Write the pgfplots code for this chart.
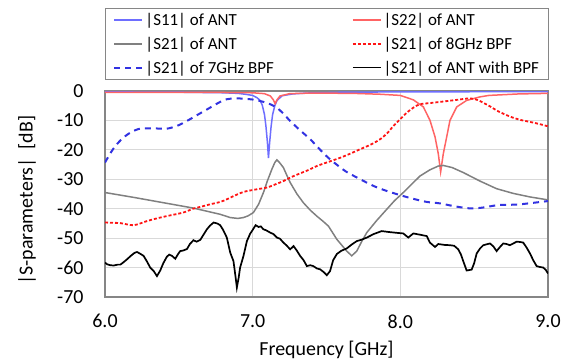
\documentclass[border=0pt]{standalone}
\usepackage{fontspec}
\setmainfont{Carlito}
\usepackage{pgfplots}
\pgfplotsset{compat=1.18}
\definecolor{cSeleven}{RGB}{110,110,255}
\definecolor{cStwotwo}{RGB}{255,100,100}
\definecolor{cAnt}{RGB}{128,128,128}
\definecolor{cEight}{RGB}{255,20,20}
\definecolor{cSeven}{RGB}{50,50,225}
\definecolor{cFrame}{RGB}{134,134,134}
\definecolor{cGrid}{RGB}{217,217,217}
\begin{document}
\begin{tikzpicture}
\path[use as bounding box] (-105bp,-67bp) rectangle (468bp,297bp);
\begin{axis}[
  at={(0,0)}, anchor=south west,
  scale only axis, width=443bp, height=206bp,
  xmin=6, xmax=9, ymin=-70, ymax=0,
  xtick={6,7,8,9}, xticklabels={6.0,7.0,8.0,9.0},
  ytick={-70,-60,-50,-40,-30,-20,-10,0},
  yticklabels={-70,-60,-50,-40,-30,-20,-10,0},
  major tick length=0pt,
  grid=major,
  major grid style={draw=cGrid, line width=0.9bp},
  axis line style={draw=cFrame, line width=1.2bp},
  tick label style={font=\fontsize{20}{24}\selectfont},
  xticklabel style={yshift=-14bp},
  yticklabel style={xshift=-18bp},
  label style={font=\fontsize{20}{24}\selectfont},
  xlabel={Frequency [GHz]},
  ylabel={|S-parameters|\ \ [dB]},
  xlabel style={at={(axis description cs:0.5,-0.257)}, anchor=center},
  ylabel style={at={(axis description cs:-0.176,0.47)}, anchor=center},
  legend columns=2,
  legend cell align=left,
  legend image code/.code={\draw[#1] (0bp,0bp) -- (28bp,0bp);},
  legend style={at={(axis description cs:0,1)}, anchor=south west, yshift=11bp,
    draw=cFrame, line width=1bp, font=\fontsize{17}{20}\selectfont,
    inner xsep=8bp, inner ysep=3bp, row sep=6bp,
    /tikz/every even column/.append style={column sep=76bp}},
]
% |S11| of ANT
\addplot[cSeleven, line width=1.5bp] coordinates {
(6.0,-0.3) (6.5,-0.4) (6.8,-0.6) (6.9,-0.8) (6.95,-1.1) (7.0,-1.5) (7.03,-2.3) (7.05,-3.2) (7.065,-4.8) (7.08,-8) (7.09,-12) (7.1,-17.5) (7.107,-22.8) (7.115,-17.5) (7.125,-12) (7.135,-8) (7.15,-5) (7.165,-3.2) (7.2,-1.6) (7.27,-1.0) (7.36,-0.7) (7.6,-0.4) (8.0,-0.3) (9.0,-0.2)
};
\addlegendentry{|S11| of ANT}
% |S22| of ANT
\addplot[cStwotwo, line width=1.5bp] coordinates {
(6.0,-0.5) (6.8,-0.5) (7.0,-0.6) (7.08,-0.9) (7.12,-1.7) (7.14,-3.0) (7.152,-4.3) (7.165,-3.0) (7.185,-1.7) (7.25,-0.9) (7.4,-0.7) (7.68,-0.8) (7.863,-1.1) (8.0,-1.5) (8.088,-3.0) (8.156,-5.4) (8.201,-10) (8.235,-15.6) (8.257,-21.3) (8.273,-27.5) (8.291,-21.3) (8.314,-15.6) (8.336,-10) (8.382,-5.4) (8.449,-3.2) (8.539,-2.0) (8.6,-1.5) (8.8,-1.0) (9.0,-0.8)
};
\addlegendentry{|S22| of ANT}
% |S21| of ANT
\addplot[cAnt, line width=1.5bp] coordinates {
(6.0,-34.5) (6.2,-36.2) (6.4,-38.0) (6.6,-39.8) (6.78,-41.9) (6.848,-43.0) (6.9,-43.3) (6.938,-43.0) (6.97,-42.4) (7.005,-41.3) (7.04,-38.5) (7.073,-34.5) (7.10,-30.5) (7.13,-26.6) (7.15,-24.3) (7.164,-23.4) (7.18,-24.2) (7.208,-26.0) (7.23,-28.5) (7.254,-31.1) (7.30,-35.0) (7.344,-38.0) (7.39,-40.5) (7.434,-42.5) (7.475,-44.2) (7.513,-45.9) (7.57,-50.4) (7.637,-54.4) (7.671,-56.0) (7.705,-54.4) (7.74,-51.0) (7.773,-48.1) (7.84,-44.0) (7.908,-40.2) (7.96,-37.3) (8.020,-34.5) (8.08,-31.5) (8.133,-28.9) (8.2,-26.8) (8.257,-25.5) (8.291,-25.3) (8.35,-26.0) (8.426,-27.7) (8.539,-30.6) (8.652,-33.2) (8.765,-34.8) (8.878,-36.0) (9.0,-37.0)
};
\addlegendentry{|S21| of ANT}
% |S21| of 8GHz BPF
\addplot[cEight, line width=1.8bp, dash pattern=on 3bp off 2bp, smooth] coordinates {
(6.0,-44.7) (6.104,-44.9) (6.194,-45.6) (6.284,-44.2) (6.35,-43.3) (6.419,-42.5) (6.53,-41.3) (6.597,-40.0) (6.66,-39.2) (6.712,-38.5) (6.78,-37.7) (6.825,-36.8) (6.88,-35.5) (6.938,-34.3) (7.005,-33.6) (7.096,-32.8) (7.15,-31.8) (7.208,-30.6) (7.26,-29.3) (7.321,-28.0) (7.38,-26.8) (7.434,-25.5) (7.513,-24.1) (7.592,-22.7) (7.66,-21.3) (7.727,-19.8) (7.8,-18.2) (7.863,-16.4) (7.91,-14.4) (7.953,-11.9) (8.0,-9.5) (8.043,-7.4) (8.09,-5.6) (8.133,-4.5) (8.2,-4.1) (8.269,-3.7) (8.336,-3.3) (8.4,-2.9) (8.471,-2.5) (8.52,-3.0) (8.562,-4.0) (8.61,-5.3) (8.652,-6.6) (8.71,-8.0) (8.765,-9.1) (8.82,-9.9) (8.878,-10.5) (8.94,-11.2) (9.0,-12.0)
};
\addlegendentry{|S21| of 8GHz BPF}
% |S21| of 7GHz BPF
\addplot[cSeven, line width=2bp, dash pattern=on 6bp off 5bp, smooth] coordinates {
(6.0,-24.3) (6.054,-19.8) (6.11,-16.5) (6.17,-14.2) (6.237,-12.8) (6.33,-12.7) (6.418,-12.8) (6.49,-11.8) (6.554,-10.2) (6.63,-8.0) (6.71,-5.7) (6.78,-3.7) (6.825,-2.8) (6.88,-2.5) (6.936,-2.6) (7.0,-2.9) (7.051,-3.4) (7.11,-4.3) (7.164,-5.7) (7.21,-7.8) (7.254,-10.2) (7.32,-13.3) (7.39,-16.4) (7.45,-19.6) (7.512,-22.7) (7.546,-24.1) (7.63,-27.3) (7.729,-30.0) (7.82,-32.3) (7.91,-34.0) (8.02,-35.7) (8.1,-36.8) (8.18,-37.7) (8.27,-38.2) (8.37,-39.2) (8.475,-39.9) (8.56,-39.6) (8.656,-38.8) (8.73,-38.7) (8.81,-38.5) (8.9,-38.0) (9.0,-37.4)
};
\addlegendentry{|S21| of 7GHz BPF}
% |S21| of ANT with BPF
\addplot[black, line width=1.7bp] coordinates {
(6.000,-58.3) (6.015,-58.9) (6.036,-59.2) (6.06,-59.3) (6.085,-59.0) (6.104,-59.0) (6.125,-58.2) (6.149,-57.2) (6.175,-56.0) (6.2,-55.0) (6.217,-54.7) (6.235,-55.2) (6.261,-56.0) (6.285,-58.0) (6.306,-60.0) (6.33,-61.2) (6.352,-62.9) (6.374,-61.0) (6.395,-58.5) (6.419,-56.3) (6.435,-55.6) (6.453,-56.0) (6.476,-57.0) (6.495,-55.4) (6.509,-54.4) (6.53,-54.2) (6.555,-53.7) (6.575,-52.0) (6.599,-50.7) (6.62,-51.2) (6.645,-50.6) (6.665,-49.0) (6.690,-47.0) (6.71,-45.8) (6.735,-44.7) (6.76,-45.0) (6.780,-45.6) (6.80,-47.2) (6.825,-49.8) (6.848,-54.9) (6.870,-57.8) (6.885,-63.5) (6.893,-66.8) (6.905,-63.5) (6.915,-60.0) (6.938,-56.0) (6.961,-51.0) (6.983,-48.5) (7.00,-47.2) (7.02,-45.6) (7.04,-46.2) (7.055,-46.0) (7.073,-47.0) (7.09,-47.3) (7.118,-48.1) (7.14,-48.6) (7.164,-49.8) (7.185,-50.2) (7.208,-51.5) (7.23,-52.5) (7.254,-53.8) (7.277,-52.7) (7.30,-54.3) (7.321,-56.0) (7.345,-57.5) (7.367,-59.5) (7.39,-59.2) (7.411,-59.5) (7.435,-60.3) (7.457,-60.6) (7.48,-61.5) (7.502,-62.6) (7.524,-61.2) (7.545,-57.5) (7.57,-55.4) (7.60,-54.3) (7.637,-53.5) (7.67,-52.2) (7.705,-51.0) (7.74,-50.5) (7.773,-49.8) (7.82,-48.6) (7.874,-47.6) (7.92,-47.9) (7.976,-48.2) (8.02,-48.4) (8.054,-49.8) (8.088,-48.4) (8.13,-48.8) (8.179,-49.3) (8.2,-51.5) (8.235,-53.0) (8.257,-52.0) (8.30,-52.3) (8.336,-52.4) (8.365,-52.6) (8.392,-53.8) (8.41,-55.5) (8.426,-57.8) (8.449,-61.0) (8.483,-60.7) (8.5,-58.5) (8.517,-55.2) (8.54,-53.5) (8.562,-52.4) (8.607,-51.8) (8.63,-52.8) (8.652,-54.4) (8.675,-53.0) (8.697,-51.8) (8.72,-52.0) (8.742,-52.4) (8.765,-51.8) (8.788,-51.2) (8.81,-51.3) (8.832,-51.5) (8.855,-53.2) (8.878,-55.2) (8.90,-57.5) (8.923,-59.5) (8.945,-59.8) (8.968,-60.0) (8.985,-60.8) (9.0,-62.0)
};
\addlegendentry{|S21| of ANT with BPF}
\end{axis}
\end{tikzpicture}
\end{document}
